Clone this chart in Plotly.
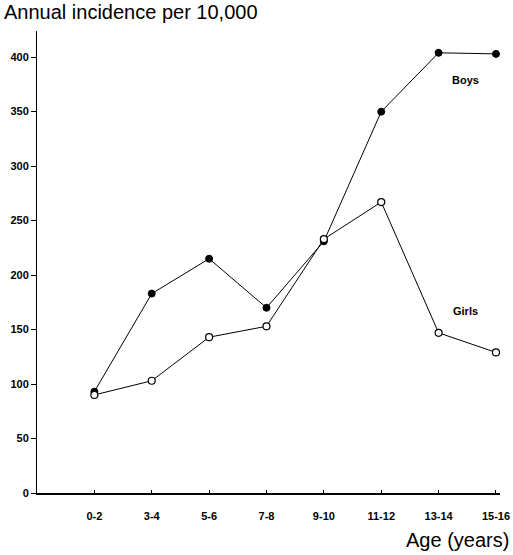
import plotly.graph_objects as go

ages = ["0-2", "3-4", "5-6", "7-8", "9-10", "11-12", "13-14", "15-16"]
boys = [93, 183, 215, 170, 231, 350, 404, 403]
girls = [90, 103, 143, 153, 233, 267, 147, 129]
y_ticks = [0, 50, 100, 150, 200, 250, 300, 350, 400]

FONT = "Liberation Sans, Arial, sans-serif"

fig = go.Figure()
fig.add_trace(go.Scatter(
    x=ages, y=boys, mode="lines+markers", name="Boys",
    line=dict(color="black", width=1),
    marker=dict(size=7, color="black", line=dict(color="black", width=1)),
))
fig.add_trace(go.Scatter(
    x=ages, y=girls, mode="lines+markers", name="Girls",
    line=dict(color="black", width=1),
    marker=dict(size=7, color="white", line=dict(color="black", width=1.2)),
))

fig.update_layout(
    width=513, height=555,
    margin=dict(l=37, r=13, t=31, b=62),
    paper_bgcolor="white", plot_bgcolor="white",
    showlegend=False,
    font=dict(family=FONT, color="black"),
    xaxis=dict(
        type="category", range=[-1, 7.07], automargin=False,
        showgrid=False, zeroline=False,
        showline=True, linecolor="black", linewidth=1.5,
        ticks="inside", ticklen=3, tickcolor="black",
        tickfont=dict(size=11, weight="bold", family=FONT),
        ticklabelstandoff=12,
    ),
    yaxis=dict(
        range=[0, 424], tickvals=y_ticks, automargin=False,
        showgrid=False, zeroline=False,
        showline=True, linecolor="black", linewidth=1,
        ticks="outside", ticklen=5, tickcolor="black",
        tickfont=dict(size=11, weight="bold", family=FONT),
    ),
    annotations=[
        dict(text="Annual incidence per 10,000", xref="paper", yref="paper",
             x=-0.076, y=1.041, xanchor="left", yanchor="middle",
             showarrow=False, font=dict(size=20, family=FONT)),
        dict(text="Age (years)", xref="paper", yref="paper",
             x=1.024, y=-0.102, xanchor="right", yanchor="middle",
             showarrow=False, font=dict(size=20, family=FONT)),
        dict(text="Boys", x=6.46, y=379, xref="x", yref="y",
             showarrow=False, font=dict(size=11, weight="bold", family=FONT)),
        dict(text="Girls", x=6.46, y=167, xref="x", yref="y",
             showarrow=False, font=dict(size=11, weight="bold", family=FONT)),
    ],
)

fig.write_html(
    "out.html",
    config={"displayModeBar": False},
    post_script="document.body.style.margin='0px';document.body.style.overflow='hidden';",
)
